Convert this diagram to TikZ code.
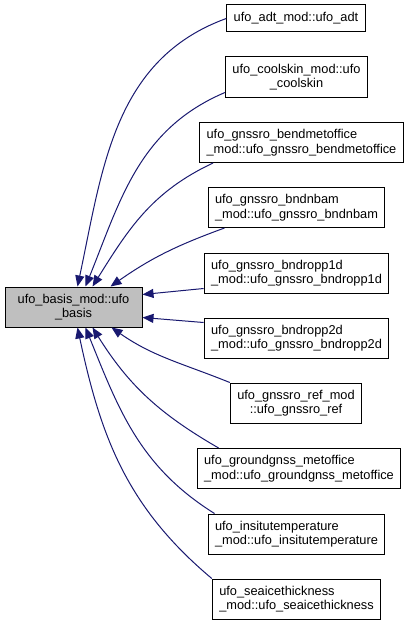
\documentclass[tikz,border=0pt]{standalone}
\usepackage{fontspec}
\setmainfont{Liberation Sans}
\usepackage{xcolor}
\usepackage{tikz}
\usetikzlibrary{arrows.meta}

\definecolor{edgeblue}{HTML}{191970}
\definecolor{maingray}{HTML}{BFBFBF}

\begin{document}
\begin{tikzpicture}[
    x=1pt, y=-1pt,
    box/.style={rectangle, draw=black, fill=white, line width=1pt, inner xsep=7pt, inner ysep=2pt,
                minimum height=40pt, align=left, font=\fontsize{12.8}{14.5}\selectfont},
    centerbox/.style={box, align=center},
    mainbox/.style={centerbox, fill=maingray},
    arrow/.style={-{Triangle[length=11pt, width=9pt]}, line width=1pt, color=edgeblue}
]
\useasboundingbox (0,0) rectangle (409,626);

% Nodes
\node[mainbox, minimum width=137pt] (basis) at (73.5,307) {ufo\_basis\_mod::ufo\\\_basis};

\node[centerbox, minimum height=27pt] (adt) at (296,18.5) {ufo\_adt\_mod::ufo\_adt};
\node[centerbox] (coolskin) at (296.5,77) {ufo\_coolskin\_mod::ufo\\\_coolskin};
\node[box] (bendmet) at (301.5,142.5) {ufo\_gnssro\_bendmetoffice\\\_mod::ufo\_gnssro\_bendmetoffice};
\node[box] (bndnbam) at (296.5,207.5) {ufo\_gnssro\_bndnbam\\\_mod::ufo\_gnssro\_bndnbam};
\node[box] (bndropp1d) at (296.5,273) {ufo\_gnssro\_bndropp1d\\\_mod::ufo\_gnssro\_bndropp1d};
\node[box] (bndropp2d) at (296.5,338) {ufo\_gnssro\_bndropp2d\\\_mod::ufo\_gnssro\_bndropp2d};
\node[centerbox] (gnssroref) at (296,403) {ufo\_gnssro\_ref\_mod\\::ufo\_gnssro\_ref};
\node[box] (groundgnss) at (299,468.5) {ufo\_groundgnss\_metoffice\\\_mod::ufo\_groundgnss\_metoffice};
\node[box] (insitu) at (296.5,534) {ufo\_insitutemperature\\\_mod::ufo\_insitutemperature};
\node[box] (seaice) at (296.5,599) {ufo\_seaicethickness\\\_mod::ufo\_seaicethickness};

% Arrows
\draw[arrow] (adt.west) to[out=200, in=78] ([xshift=73pt]basis.north west);
\draw[arrow] ([yshift=5pt]coolskin.south west) to[out=203, in=68] ([xshift=81pt]basis.north west);
\draw[arrow] ([xshift=14pt]bendmet.south west) to[out=205, in=58] ([xshift=88pt]basis.north west);
\draw[arrow] ([xshift=17pt]bndnbam.south west) to[out=200, in=35] ([xshift=106pt]basis.north west);
\draw[arrow] ([yshift=5pt]bndropp1d.south west) -- ([yshift=-8pt]basis.north east);
\draw[arrow] ([yshift=-5pt]bndropp2d.north west) -- ([yshift=10pt]basis.south east);
\draw[arrow] (gnssroref.north west) to[out=158, in=-35] ([xshift=107pt]basis.south west);
\draw[arrow] ([xshift=22pt]groundgnss.north west) to[out=150, in=-58] ([xshift=88pt]basis.south west);
\draw[arrow] ([xshift=7pt]insitu.north west) to[out=148, in=-68] ([xshift=81pt]basis.south west);
\draw[arrow] (seaice.north west) to[out=140, in=-78] ([xshift=73pt]basis.south west);

\end{tikzpicture}
\end{document}
